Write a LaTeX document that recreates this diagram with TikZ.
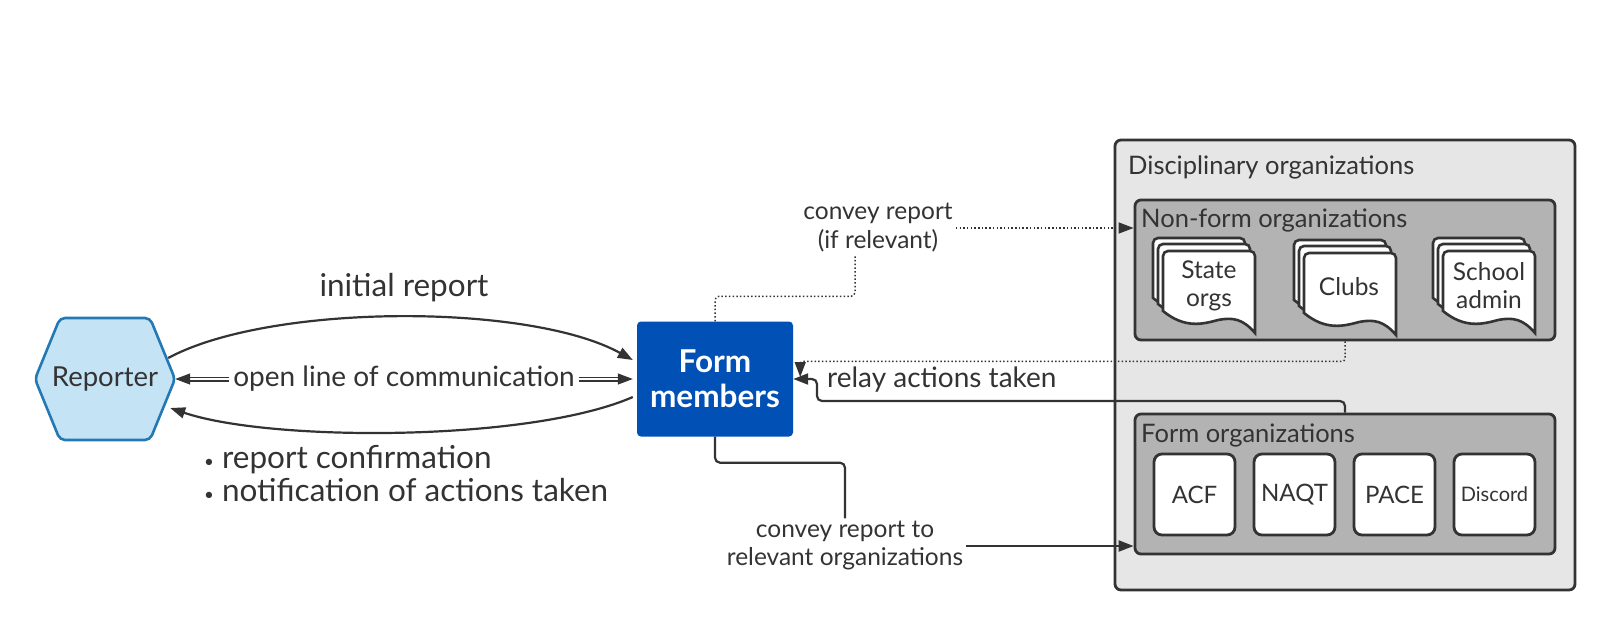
\documentclass[tikz,border=0pt]{standalone}
\usepackage{fontspec}
\setmainfont{Lato}
\usetikzlibrary{arrows.meta,calc}
\definecolor{hexfill}{HTML}{C4E4F6}
\definecolor{hexdraw}{HTML}{2479B4}
\definecolor{fmblue}{HTML}{0050B5}
\definecolor{ink}{HTML}{333333}
\definecolor{outerfill}{HTML}{E6E6E6}
\definecolor{innerfill}{HTML}{B3B3B3}
\newcommand\myfs[1]{\fontsize{#1}{#1}\selectfont}
\newcommand\mybul{\raisebox{1.5pt}{\fontsize{17}{17}\selectfont•}\hspace{8pt}}
\newcommand\docshape[2]{%
  \draw[docst] (#1,#2+60) [rounded corners=5] -- (#1,#2) -- (#1+92,#2) [sharp corners] -- (#1+92,#2+82)
    .. controls (#1+80,#2+68) and (#1+70,#2+66) .. (#1+55,#2+69)
    .. controls (#1+40,#2+73) and (#1+22,#2+78) .. cycle;}
\newcommand\docstack[2]{%
  \docshape{#1-10}{#2-13}\docshape{#1-5}{#2-7}\docshape{#1}{#2}}
\begin{document}
\begin{tikzpicture}[x=1pt,y=-1pt,
  arr/.style={draw=ink, line width=2.2, -{Triangle[length=15,width=11]}},
  plainline/.style={draw=ink, line width=2.2},
  dotl/.style={draw=ink, line width=1.5, dash pattern=on 1.5 off 2.2},
  dotarr/.style={dotl, -{Triangle[length=15,width=11]}},
  dbl/.style={draw=ink, line width=1.2, double=white, double distance=2.6},
  lbl/.style={text=ink, inner sep=0},
  box/.style={draw=ink, line width=2.8, rounded corners=6, inner sep=0},
  smallbox/.style={box, fill=white, rounded corners=8, minimum size=81, text=ink, font=\myfs{24}},
  docst/.style={draw=ink, line width=2.6, fill=white},
]
\useasboundingbox (0,0) rectangle (1613,630);

% right side containers
\node[box, fill=outerfill, minimum width=460, minimum height=450] (outer) at (1345,365) {};
\node[lbl, anchor=west, font=\myfs{25.5}] (lbldisc) at (1128,167) {Disciplinary organizations};
\node[box, fill=innerfill, minimum width=420, minimum height=140] (nonform) at (1345,270) {};
\node[lbl, anchor=west, font=\myfs{25.5}] (lblnon) at (1141,220) {Non-form organizations};
\node[box, fill=innerfill, minimum width=420, minimum height=140] (formorg) at (1345,484) {};
\node[lbl, anchor=west, font=\myfs{25.5}] (lblform) at (1141,435) {Form organizations};

% documents
\docstack{1163}{251}
\docstack{1304}{253}
\docstack{1443}{251}
\node[lbl, align=center, font=\fontsize{24.5}{28}\selectfont] (state) at (1209,286) {State\\orgs};
\node[lbl, font=\myfs{24.5}] (clubs) at (1349,287) {Clubs};
\node[lbl, align=center, font=\fontsize{24.5}{28}\selectfont] (school) at (1489,286) {School\\admin};

% form organizations
\node[smallbox] (acf) at (1194.5,494.5) {ACF};
\node[smallbox] (naqt) at (1294.5,494.5) {NAQT};
\node[smallbox] (pace) at (1394.5,494.5) {PACE};
\node[smallbox, font=\myfs{20}] (discord) at (1494.5,494.5) {Discord};

% reporter
\draw[draw=hexdraw, fill=hexfill, line width=2.6, rounded corners=5]
  (35,379) -- (60,318) -- (150,318) -- (175,379) -- (150,440) -- (60,440) -- cycle;
\node[lbl, minimum width=140, minimum height=122, font=\myfs{27.5}] (rep) at (105,379) {Reporter};

% form members
\node[fill=fmblue, rounded corners=4, minimum width=156, minimum height=115, inner sep=0,
  text=white, align=center, font=\bfseries\fontsize{31.5}{35}\selectfont] (fm) at (715,379) {Form\\members};

% reporter <-> form members
\draw[arr] ([shift={(-7,-21)}]rep.east) .. controls +(102,-55) and +(-103,-57) .. ([shift={(-4,-19)}]fm.west);
\node[lbl, font=\myfs{31.5}] (lblinit) at (404,288) {initial report};
\draw[dbl, {Triangle[length=15,width=11]}-{Triangle[length=15,width=11]}] (rep.east) -- ([xshift=-4]fm.west)
  node[midway, fill=white, inner xsep=4, inner ysep=2, text=ink, font=\myfs{28}] (lblopen) {open line of communication};
\draw[arr] ([shift={(-4,18)}]fm.west) .. controls +(-103,45) and +(100,34) .. ([shift={(-5,29)}]rep.east);
\node[lbl, anchor=west, align=left, font=\fontsize{31.5}{33}\selectfont] (lblconf) at (204,474)
  {\mybul report confirmation\\\mybul notification of actions taken};

% convey report (if relevant)
\node[lbl, inner sep=3, align=center, font=\fontsize{24.5}{29}\selectfont] (lblconv) at (878,228) {convey report\\(if relevant)};
\draw[dotl, rounded corners=4] (fm.north) -- ++(0,-25) -| ([xshift=-23]lblconv.south);
\draw[dotarr] (lblconv.east) -- (lblconv.east -| nonform.west);

% relay actions taken
\draw[dotarr, rounded corners=3] (nonform.south) -- ++(0,20) -| ([shift={(7,-2)}]fm.east);
\draw[arr, rounded corners=5] (formorg.north) |- (817,401) |- (fm.east);
\node[lbl, anchor=west, font=\myfs{28}] (lblrelay) at (827,380) {relay actions taken};

% convey report to relevant organizations
\node[lbl, inner sep=3, align=center, font=\fontsize{24.5}{28}\selectfont] (lblconv2) at (845,546) {convey report to\\relevant organizations};
\draw[plainline, rounded corners=5] (fm.south) -- ++(0,26) -| (lblconv2.north);
\draw[arr] (lblconv2.east) -- (lblconv2.east -| formorg.west);
\end{tikzpicture}
\end{document}
